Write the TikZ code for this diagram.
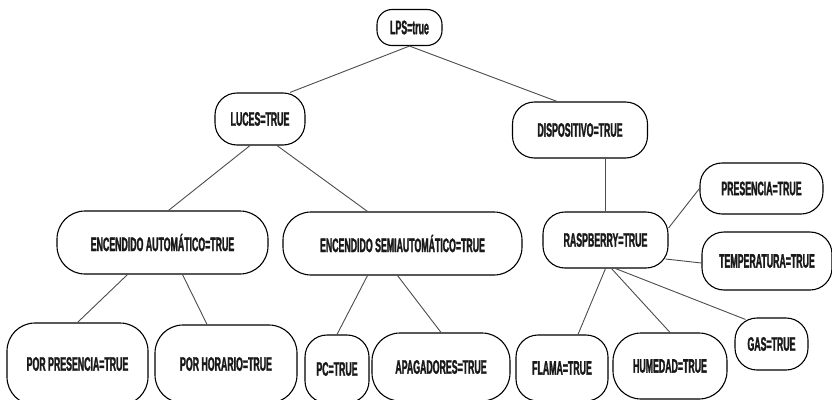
\documentclass[tikz,border=0pt]{standalone}
\usepackage{fontspec}
\newfontfamily\boxfont{Liberation Sans Bold}[FakeStretch=0.45, FakeBold=1.4]
\usepackage{tikz}
\usetikzlibrary{calc, positioning}

\tikzset{
    box/.style={draw=black, line width=1.1pt, fill=white, rounded corners=22pt,
        inner sep=0pt, text=black!90, font=\boxfont\fontsize{19.5}{21}\selectfont},
    link/.style={draw=black!70, line width=0.9pt}
}

\begin{document}
\begin{tikzpicture}[x=1pt, y=-1pt]
        \useasboundingbox (0,0) rectangle (832,399);
        \node[box, rounded corners=15pt, minimum width=65pt, minimum height=36pt] (lps) at (409.5,27.5) {LPS=true};
        \node[box, minimum width=90pt, minimum height=52pt] (luces) at (260,119) {LUCES=TRUE};
        \node[box, minimum width=135pt, minimum height=56pt] (disp) at (580,130) {DISPOSITIVO=TRUE};
        \node[box, rounded corners=28pt, minimum width=211pt, minimum height=63pt] (encauto) at (162.5,242.5) {ENCENDIDO AUTOMÁTICO=TRUE};
        \node[box, rounded corners=28pt, minimum width=239pt, minimum height=63pt] (encsemi) at (402.5,243.5) {ENCENDIDO SEMIAUTOMÁTICO=TRUE};
        \node[box, minimum width=125pt, minimum height=56pt] (rasp) at (605.5,240) {RASPBERRY=TRUE};
        \node[box, minimum width=123pt, minimum height=51pt] (pres) at (761.5,188.5) {PRESENCIA=TRUE};
        \node[box, minimum width=130pt, minimum height=58pt] (temp) at (767,261) {TEMPERATURA=TRUE};
        \node[box, rounded corners=28pt, minimum width=141pt, minimum height=82pt] (porpres) at (77.5,364) {POR PRESENCIA=TRUE};
        \node[box, rounded corners=28pt, minimum width=142pt, minimum height=78pt] (porhor) at (226,364) {POR HORARIO=TRUE};
        \node[box, minimum width=64pt, minimum height=68pt] (pc) at (337,369) {PC=TRUE};
        \node[box, rounded corners=28pt, minimum width=138pt, minimum height=68pt] (apag) at (441,367) {APAGADORES=TRUE};
        \node[box, minimum width=92pt, minimum height=66pt] (flama) at (562,368) {FLAMA=TRUE};
        \node[box, rounded corners=28pt, minimum width=114pt, minimum height=66pt] (humedad) at (670,366) {HUMEDAD=TRUE};
        \node[box, minimum width=73pt, minimum height=52pt] (gas) at (771.5,344) {GAS=TRUE};
        % ramas
        \draw[link] (lps.south) -- ([xshift=30pt]luces.north)
        (lps.south) -- ([xshift=-23pt]disp.north);
        \draw[link] ([xshift=-10pt]luces.south) -- ([xshift=6pt]encauto.north)
        ([xshift=17pt]luces.south) -- ([xshift=-35pt]encsemi.north);
        \draw[link] ([xshift=-35pt]encauto.south) -- (porpres.north)
        ([xshift=20pt]encauto.south) -- ([xshift=-19pt]porhor.north);
        \draw[link] ([xshift=-35pt]encsemi.south) -- (pc.north)
        ([xshift=-5pt]encsemi.south) -- (apag.north);
        \draw[link] (rasp.north |- disp.south) -- (rasp.north);
        \draw[link] ([yshift=12pt]rasp.east) -- (pres.west)
        ([xshift=-3pt, yshift=-19pt]rasp.east) -- ([yshift=-2pt]temp.west);
        \draw[link] (rasp.south) -- ([xshift=16pt]flama.north)
        ([xshift=6pt]rasp.south) -- (humedad.north)
        ([xshift=10pt]rasp.south) -- ([xshift=-26pt, yshift=-2pt]gas.north);
    \end{tikzpicture}
\end{document}
